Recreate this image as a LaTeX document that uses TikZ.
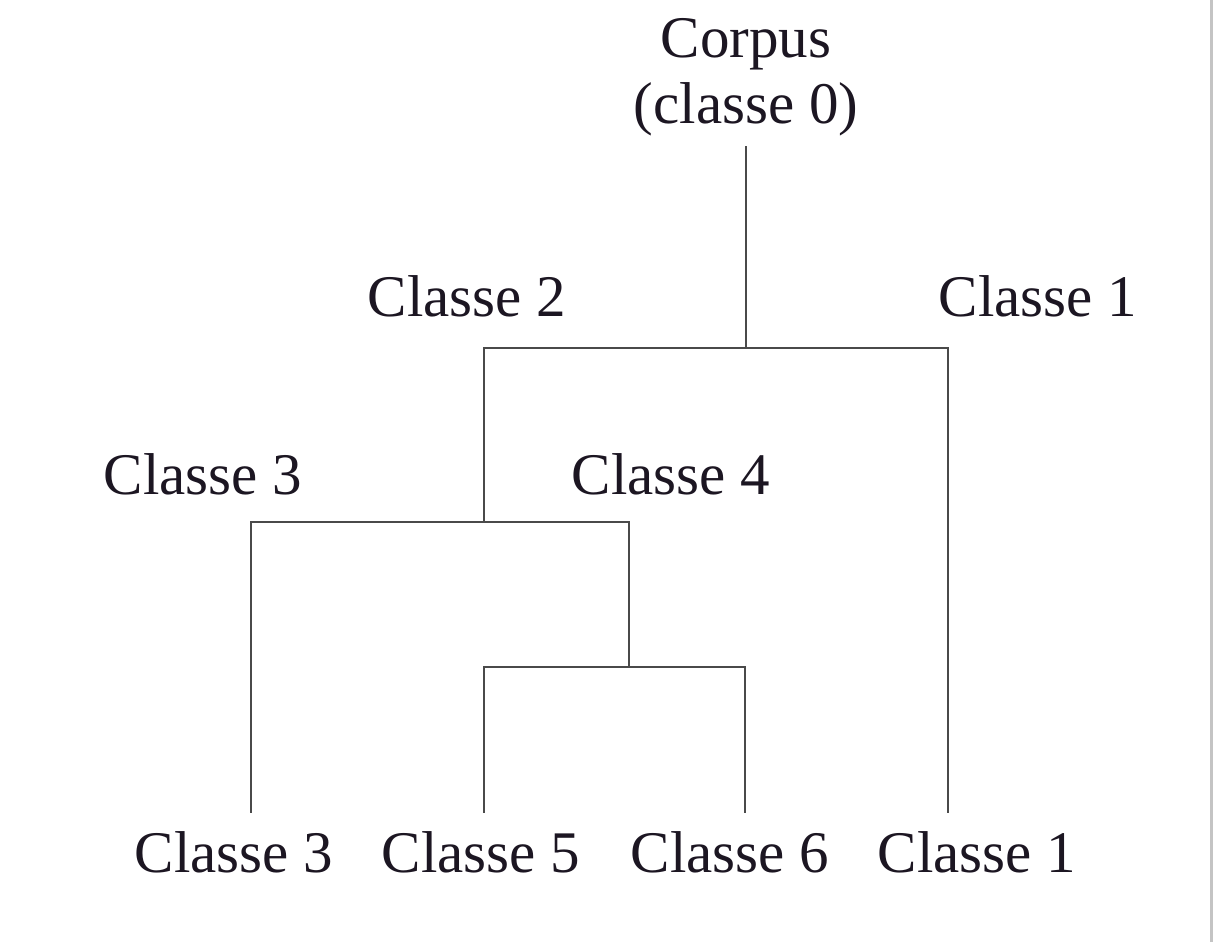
\documentclass[tikz,border=0pt]{standalone}
\usepackage{fontspec}
\setmainfont{Liberation Serif}
\definecolor{linegray}{HTML}{4A4A4A}
\definecolor{textdark}{HTML}{1C1622}
\definecolor{bordergray}{HTML}{C4C4C4}
\begin{document}
\begin{tikzpicture}[x=1pt,y=-1pt,
  lbl/.style={anchor=base,inner sep=0pt,text=textdark,font=\fontsize{59}{66}\selectfont},
  branch/.style={draw=linegray,line width=2.6pt,line cap=rect}]
\useasboundingbox[fill=white] (0,0) rectangle (1217,942);
\draw[bordergray,line width=3pt] (1211,0) -- (1211,942);
% labels
\node[lbl] (corpus) at (746,57) {Corpus};
\node[lbl] (c0) at (746,123) {(classe 0)};
\node[lbl] (c2) at (467,316) {Classe 2};
\node[lbl] (c1top) at (1038,316) {Classe 1};
\node[lbl] (c3top) at (203,494) {Classe 3};
\node[lbl] (c4) at (671,494) {Classe 4};
\node[lbl] (b3) at (234,872) {Classe 3};
\node[lbl] (b5) at (481,872) {Classe 5};
\node[lbl] (b6) at (730,872) {Classe 6};
\node[lbl] (b1) at (977,872) {Classe 1};
% junction coordinates
\coordinate (root) at (746,147);
\coordinate (j0) at (746,348);
\coordinate (j2) at (484,348);
\coordinate (j1) at (948,348);
\coordinate (j2b) at (484,522);
\coordinate (j3) at (251,522);
\coordinate (j4) at (629,522);
\coordinate (j4b) at (629,667);
\coordinate (j5) at (484,667);
\coordinate (j6) at (745,667);
\coordinate (e3) at (251,812);
\coordinate (e5) at (484,812);
\coordinate (e6) at (745,812);
\coordinate (e1) at (948,812);
% branches
\draw[branch] (root) -- (j0);
\draw[branch] (e3) |- (j4) -- (j4b);
\draw[branch] (j2b) -- (j2) -- (j1) -- (e1);
\draw[branch] (e5) |- (j6) -- (e6);
\end{tikzpicture}
\end{document}
